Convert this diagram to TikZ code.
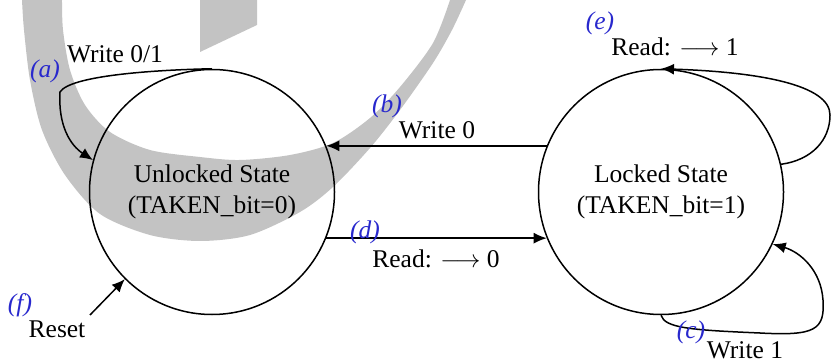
\documentclass[tikz,border=0pt]{standalone}
\usepackage{fontspec}
\setmainfont{Liberation Serif}
\usetikzlibrary{arrows.meta}
\definecolor{lblblue}{RGB}{40,40,205}
\definecolor{wmgray}{RGB}{195,195,195}
\begin{document}
\begin{tikzpicture}[x=1pt,y=-1pt,
  state/.style={draw,circle,line width=1.5pt,minimum size=245pt,inner sep=0pt,align=center,font=\fontsize{25.5}{31}\selectfont},
  edge/.style={line width=1.5pt,-{Latex[length=13pt,width=11pt]}},
  lbl/.style={font=\fontsize{25.5}{31}\selectfont,inner sep=0pt,anchor=base},
  tag/.style={font=\fontsize{25.5}{31}\selectfont\itshape,text=lblblue,inner sep=0pt,anchor=base},
  wm/.style={fill=wmgray}]
\useasboundingbox (0,0) rectangle (832,363);
% watermark
\fill[wm] plot[smooth,tension=0.5] coordinates {(22,0) (24,30) (30,80) (42,130) (65,175) (100,214) (150,235) (200,241) (250,235) (300,212) (333,187) (370,148) (400,110) (433,63) (452,30) (466,0)}
  -- plot[smooth,tension=0.5] coordinates {(450,0) (433,43) (400,87) (370,118) (333,143) (290,155) (240,160) (200,157) (150,150) (110,132) (85,105) (70,70) (63,30) (62,0)} -- cycle;
\fill[wm] (200,0) -- (257,0) -- (257,25) -- (200,52) -- cycle;
% states
\node[state] (U) at (212,192) {Unlocked State\\(TAKEN\_bit=0)};
\node[state] (L) at (661,192) {Locked State\\(TAKEN\_bit=1)};
% transitions
\draw[edge] (L.158) -- (U.22);
\draw[edge] (U.-22) -- (L.202);
\draw[edge] (U.90) .. controls (150,70) and (70,76) .. (60,92) .. controls (58,125) and (70,145) .. (U.165);
\draw[edge] (L.13) .. controls (812,160) and (830,140) .. (830,115) .. controls (830,85) and (760,72) .. (L.90);
\draw[edge] (L.270) .. controls (665,328) and (690,330) .. (760,333) .. controls (815,336) and (825,330) .. (823,300) .. controls (821,270) and (800,252) .. (L.-25);
\coordinate (r) at (90,315);
\draw[edge] (r) -- (U.225);
% labels
\node[lbl] (la) at (115,63) {Write 0/1};
\node[tag] (ta) at (45,77.5) {(a)};
\node[lbl] (lb) at (437,139) {Write 0};
\node[tag] (tb) at (387,112.5) {(b)};
\node[lbl] (ld) at (436,268) {Read: $\longrightarrow$ 0};
\node[tag] (td) at (365,239) {(d)};
\node[lbl] (le) at (675,56) {Read: $\longrightarrow$ 1};
\node[tag] (te) at (600,29.5) {(e)};
\node[lbl] (lc) at (745,358) {Write 1};
\node[tag] (tc) at (691,338) {(c)};
\node[lbl] (lf) at (57,337) {Reset};
\node[tag] (tf) at (20,311) {(f)};
\end{tikzpicture}
\end{document}
